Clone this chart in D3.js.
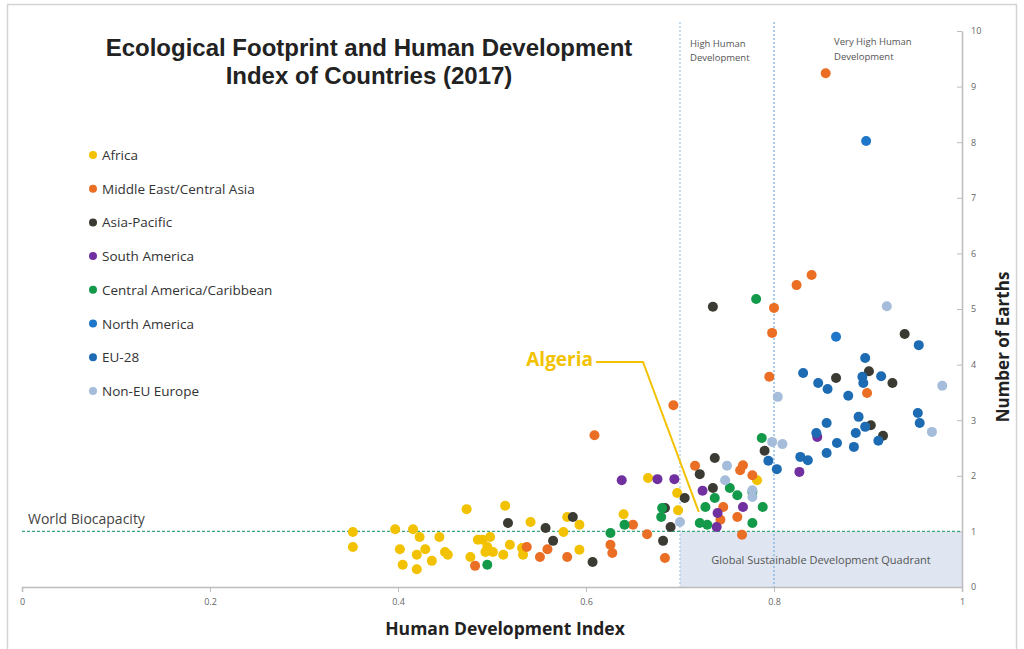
<!DOCTYPE html>
<html><head><meta charset="utf-8">
<script src="https://cdn.jsdelivr.net/npm/d3@7"></script>
<style>body{margin:0;background:#fff;}svg{display:block;}</style>
</head><body>
<svg id="c" width="1024" height="649"></svg>
<script>
const categories = ["Africa","Middle East/Central Asia","Asia-Pacific","South America","Central America/Caribbean","North America","EU-28","Non-EU Europe"];
const colors = ["#f2c200","#ea6f24","#3b3b33","#7030a0","#12994a","#1f77c9","#1d6bb3","#a5bcdb"];

const africa = [[0.352,0.99],[0.352,0.72],[0.397,1.04],[0.402,0.68],[0.405,0.40],[0.416,1.04],[0.423,0.90],[0.420,0.58],[0.429,0.68],[0.420,0.32],[0.436,0.47],[0.444,0.90],[0.450,0.63],[0.453,0.58],[0.473,1.40],[0.477,0.54],[0.485,0.85],[0.490,0.85],[0.495,0.72],[0.498,0.90],[0.493,0.63],[0.501,0.63],[0.514,1.46],[0.512,0.58],[0.519,0.76],[0.532,0.70],[0.533,0.58],[0.541,1.17],[0.576,0.99],[0.580,1.26],[0.593,1.12],[0.593,0.67],[0.640,1.31],[0.697,1.69],[0.666,1.96],[0.698,1.38],[0.782,1.92]];
const middleEast = [[0.855,9.24],[0.800,5.02],[0.798,4.57],[0.824,5.43],[0.840,5.61],[0.795,3.78],[0.899,3.49],[0.609,2.73],[0.693,3.27],[0.716,2.18],[0.764,2.10],[0.767,2.19],[0.777,2.01],[0.746,1.44],[0.761,1.26],[0.743,1.21],[0.766,0.94],[0.626,0.76],[0.628,0.61],[0.665,0.95],[0.684,0.52],[0.650,1.12],[0.482,0.38],[0.559,0.68],[0.551,0.54],[0.537,0.72],[0.580,0.54]];
const asiaPacific = [[0.735,5.04],[0.939,4.55],[0.901,3.88],[0.866,3.76],[0.926,3.67],[0.903,2.91],[0.916,2.72],[0.790,2.45],[0.737,2.32],[0.721,2.03],[0.735,1.78],[0.705,1.60],[0.684,1.42],[0.690,1.08],[0.682,0.83],[0.517,1.15],[0.557,1.06],[0.565,0.83],[0.586,1.26],[0.607,0.45]];
const southAmerica = [[0.638,1.92],[0.676,1.94],[0.694,1.94],[0.724,1.73],[0.740,1.33],[0.739,1.08],[0.767,1.44],[0.827,2.07],[0.846,2.70]];
const centralAmerica = [[0.781,5.18],[0.626,0.97],[0.641,1.12],[0.680,1.26],[0.681,1.42],[0.727,1.44],[0.729,1.12],[0.737,1.60],[0.753,1.78],[0.761,1.65],[0.777,1.71],[0.777,1.15],[0.788,1.44],[0.787,2.68],[0.721,1.15],[0.495,0.40]];
const northAmerica = [[0.898,8.02],[0.866,4.50]];
const eu28 = [[0.954,4.35],[0.897,4.12],[0.831,3.85],[0.847,3.67],[0.857,3.56],[0.894,3.78],[0.895,3.67],[0.914,3.79],[0.879,3.44],[0.890,3.06],[0.953,3.13],[0.955,2.95],[0.856,2.95],[0.897,2.88],[0.887,2.77],[0.845,2.77],[0.867,2.59],[0.911,2.63],[0.856,2.41],[0.885,2.52],[0.828,2.34],[0.836,2.28],[0.794,2.27],[0.803,2.12]];
const nonEU = [[0.804,3.42],[0.809,2.57],[0.798,2.61],[0.750,2.18],[0.748,1.92],[0.777,1.74],[0.777,1.62],[0.700,1.17],[0.979,3.62],[0.968,2.79],[0.920,5.05]];
const seriesValues = [africa, middleEast, asiaPacific, southAmerica, centralAmerica, northAmerica, eu28, nonEU];

const xTicks = [0,0.2,0.4,0.6,0.8,1];
const yTicks = [0,1,2,3,4,5,6,7,8,9,10];
const worldBiocapacity = 1;
const hdiThresholds = [0.7,0.8];
const algeria = [0.72,1.35];

const svg = d3.select("#c");
const x = d3.scaleLinear().domain([0,1]).range([22,962]);
const y = d3.scaleLinear().domain([0,10]).range([587,31]);
const bodyFont = "'Open Sans','Noto Sans',sans-serif";

// frame
svg.append("rect").attr("x",7.5).attr("y",4.5).attr("width",1009).attr("height",660)
  .attr("fill","none").attr("stroke","#d4d4d4").attr("stroke-width",1.5);

// quadrant
svg.append("rect").attr("x",x(0.7)).attr("y",y(1)).attr("width",x(1)-x(0.7)).attr("height",y(0)-y(1))
  .attr("fill","#dfe6f1");
svg.append("text").attr("x",(x(0.7)+x(1))/2).attr("y",y(0.42)).attr("text-anchor","middle")
  .attr("font-family",bodyFont).attr("font-size",11).attr("fill","#555").text("Global Sustainable Development Quadrant");

// vertical threshold lines
hdiThresholds.forEach((t,i)=>{
  svg.append("line").attr("x1",x(t)).attr("x2",x(t)).attr("y1",22).attr("y2",y(0))
    .attr("stroke", i===0 ? "#a9cbe8" : "#7fb2e0").attr("stroke-width",1.3).attr("stroke-dasharray","2,2");
});
const noteStyle = s => s.attr("font-family",bodyFont).attr("font-size",9.5).attr("fill","#555");
noteStyle(svg.append("text").attr("x",690).attr("y",47)).text("High Human");
noteStyle(svg.append("text").attr("x",690).attr("y",61)).text("Development");
noteStyle(svg.append("text").attr("x",834).attr("y",45)).text("Very High Human");
noteStyle(svg.append("text").attr("x",834).attr("y",60)).text("Development");

// x axis
const xAxis = d3.axisBottom(x).tickValues(xTicks).tickSize(5).tickFormat(d=>String(d));
const gx = svg.append("g").attr("transform",`translate(0,${y(0)})`).call(xAxis);
gx.select(".domain").attr("stroke","#bdbdbd").attr("stroke-width",1.5);
gx.selectAll(".tick line").attr("stroke","#bdbdbd");
gx.selectAll(".tick text").attr("font-family",bodyFont).attr("font-size",9).attr("fill","#666").attr("dy","1.1em");

// y axis (right side)
const yAxis = d3.axisRight(y).tickValues(yTicks).tickSize(0);
const gy = svg.append("g").attr("transform",`translate(${x(1)},0)`).call(yAxis);
gy.select(".domain").attr("stroke","#bdbdbd").attr("stroke-width",1.5);
gy.selectAll(".tick text").attr("font-family",bodyFont).attr("font-size",9).attr("fill","#666").attr("x",9);
gy.selectAll(".tick").append("line").attr("x1",-5).attr("x2",0).attr("stroke","#bdbdbd");

// world biocapacity line
svg.append("line").attr("x1",x(0)).attr("x2",x(1)).attr("y1",y(worldBiocapacity)).attr("y2",y(worldBiocapacity))
  .attr("stroke","#3aa87a").attr("stroke-width",1.3).attr("stroke-dasharray","3,2");
svg.append("text").attr("x",28).attr("y",y(worldBiocapacity)-7).attr("font-family",bodyFont).attr("font-size",14).attr("fill","#444").text("World Biocapacity");

// points
seriesValues.forEach((vals,i)=>{
  svg.append("g").selectAll("circle").data(vals).join("circle")
    .attr("cx",d=>x(d[0])).attr("cy",d=>y(d[1])).attr("r",5)
    .attr("fill", colors[i]);
});

// Algeria annotation
svg.append("polyline").attr("points",`596,362 643,362 ${x(algeria[0])},${y(algeria[1])}`)
  .attr("fill","none").attr("stroke","#f2c200").attr("stroke-width",2);
svg.append("text").attr("x",593).attr("y",366).attr("text-anchor","end").attr("font-family",bodyFont)
  .attr("font-size",19).attr("font-weight","bold").attr("fill","#f2c200").text("Algeria");

// title
const tf = "'Liberation Sans',Arial,sans-serif";
svg.append("text").attr("x",369).attr("y",56).attr("text-anchor","middle").attr("font-family",tf).attr("font-weight","bold").attr("font-size",24).attr("fill","#222").text("Ecological Footprint and Human Development");
svg.append("text").attr("x",369).attr("y",84).attr("text-anchor","middle").attr("font-family",tf).attr("font-weight","bold").attr("font-size",24).attr("fill","#222").text("Index of Countries (2017)");

// legend
categories.forEach((c,i)=>{
  const ly = 155 + i*33.7;
  svg.append("circle").attr("cx",93).attr("cy",ly).attr("r",4).attr("fill",colors[i]);
  svg.append("text").attr("x",102).attr("y",ly+5).attr("font-family",bodyFont).attr("font-size",13.5).attr("fill","#333").text(c);
});

// axis titles
svg.append("text").attr("x",505).attr("y",635).attr("text-anchor","middle").attr("font-family",bodyFont).attr("font-weight","bold").attr("font-size",17.5).attr("fill","#222").text("Human Development Index");
svg.append("text").attr("transform","translate(1009,347) rotate(-90)").attr("text-anchor","middle").attr("font-family",bodyFont).attr("font-weight","bold").attr("font-size",17).attr("fill","#222").text("Number of Earths");
</script>
</body></html>
